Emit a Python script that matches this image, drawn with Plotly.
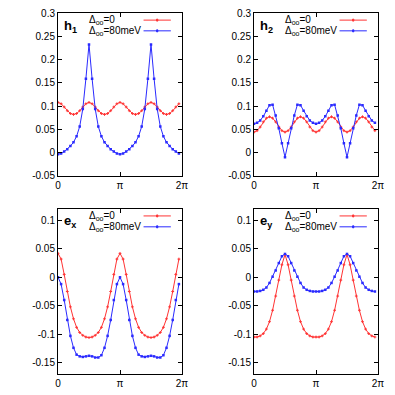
import numpy as np
import plotly.graph_objects as go
from plotly.subplots import make_subplots

# angle grid: 40 points, step pi/20
theta = np.arange(40) * np.pi / 20

h1_red = [0.108, 0.105, 0.098, 0.090, 0.084, 0.082, 0.084, 0.090, 0.098, 0.105,
          0.108, 0.105, 0.098, 0.090, 0.084, 0.082, 0.084, 0.090, 0.098, 0.105,
          0.108, 0.105, 0.098, 0.090, 0.084, 0.082, 0.084, 0.090, 0.098, 0.105,
          0.108, 0.105, 0.098, 0.090, 0.084, 0.082, 0.084, 0.090, 0.098, 0.105]
h1_blue = [-0.004, -0.002, 0.002, 0.007, 0.014, 0.022, 0.035, 0.056, 0.094, 0.159,
           0.233, 0.159, 0.094, 0.056, 0.035, 0.022, 0.014, 0.007, 0.002, -0.002,
           -0.004, -0.002, 0.002, 0.007, 0.014, 0.022, 0.035, 0.056, 0.094, 0.159,
           0.233, 0.159, 0.094, 0.056, 0.035, 0.022, 0.014, 0.007, 0.002, -0.002]
h2_red = [0.044, 0.047, 0.055, 0.066, 0.074, 0.077, 0.074, 0.066, 0.055, 0.047,
          0.044, 0.047, 0.055, 0.066, 0.074, 0.077, 0.074, 0.066, 0.055, 0.047,
          0.044, 0.047, 0.055, 0.066, 0.074, 0.077, 0.074, 0.066, 0.055, 0.047,
          0.044, 0.047, 0.055, 0.066, 0.074, 0.077, 0.074, 0.066, 0.055, 0.047]
h2_blue = [0.062, 0.064, 0.069, 0.078, 0.090, 0.102, 0.103, 0.080, 0.052, 0.020,
           -0.010, 0.020, 0.052, 0.080, 0.103, 0.102, 0.090, 0.078, 0.069, 0.064,
           0.062, 0.064, 0.069, 0.078, 0.090, 0.102, 0.103, 0.080, 0.052, 0.020,
           -0.010, 0.020, 0.052, 0.080, 0.103, 0.102, 0.090, 0.078, 0.069, 0.064]
ex_red = [0.042, 0.032, 0.005, -0.025, -0.052, -0.073, -0.088, -0.097, -0.102, -0.105,
          -0.106, -0.105, -0.102, -0.097, -0.088, -0.073, -0.052, -0.025, 0.005, 0.032,
          0.042, 0.032, 0.005, -0.025, -0.052, -0.073, -0.088, -0.097, -0.102, -0.105,
          -0.106, -0.105, -0.102, -0.097, -0.088, -0.073, -0.052, -0.025, 0.005, 0.032]
ex_blue = [0.000, -0.012, -0.040, -0.075, -0.103, -0.124, -0.136, -0.139, -0.140, -0.139,
           -0.138, -0.139, -0.141, -0.141, -0.137, -0.124, -0.103, -0.075, -0.040, -0.012,
           0.000, -0.012, -0.040, -0.075, -0.103, -0.124, -0.136, -0.139, -0.140, -0.139,
           -0.138, -0.139, -0.141, -0.141, -0.137, -0.124, -0.103, -0.075, -0.040, -0.012]
ey_red = [-0.105, -0.105, -0.103, -0.099, -0.091, -0.078, -0.058, -0.033, -0.005, 0.022,
          0.040, 0.022, -0.005, -0.033, -0.058, -0.078, -0.091, -0.099, -0.103, -0.105,
          -0.105, -0.105, -0.103, -0.099, -0.091, -0.078, -0.058, -0.033, -0.005, 0.022,
          0.040, 0.022, -0.005, -0.033, -0.058, -0.078, -0.091, -0.099, -0.103, -0.105]
ey_blue = [-0.025, -0.025, -0.024, -0.022, -0.018, -0.010, 0.001, 0.012, 0.025, 0.037,
           0.041, 0.037, 0.025, 0.012, 0.001, -0.010, -0.018, -0.022, -0.024, -0.025,
           -0.025, -0.025, -0.024, -0.022, -0.018, -0.010, 0.001, 0.012, 0.025, 0.037,
           0.041, 0.037, 0.025, 0.012, 0.001, -0.010, -0.018, -0.022, -0.024, -0.025]

panel_names = ["h<sub>1</sub>", "h<sub>2</sub>", "e<sub>x</sub>", "e<sub>y</sub>"]
series_names = ["Δ<sub>oo</sub>=0", "Δ<sub>oo</sub>=80meV"]
xtick_vals = [0, np.pi, 2 * np.pi]
xtick_text = ["0", "π", "2π"]
top_ticks = [-0.05, 0, 0.05, 0.1, 0.15, 0.2, 0.25, 0.3]
bot_ticks = [-0.15, -0.1, -0.05, 0, 0.05, 0.1]

RED = "#ff3333"
BLUE = "#2a2aff"
FONT = "Liberation Sans"

panels = [(1, 1, h1_red, h1_blue), (1, 2, h2_red, h2_blue),
          (2, 1, ex_red, ex_blue), (2, 2, ey_red, ey_blue)]

fig = make_subplots(rows=2, cols=2)

for i, (r, c, red, blue) in enumerate(panels):
    fig.add_hline(y=0, line=dict(color="black", width=0.8, dash="dot"), row=r, col=c)
    fig.add_trace(go.Scatter(x=theta, y=red, mode="lines+markers",
                             line=dict(color=RED, width=1),
                             marker=dict(symbol="cross-thin", size=2,
                                         line=dict(color=RED, width=1)),
                             showlegend=False), row=r, col=c)
    fig.add_trace(go.Scatter(x=theta, y=blue, mode="lines+markers",
                             line=dict(color=BLUE, width=1),
                             marker=dict(symbol="square", size=2.5, color=BLUE),
                             showlegend=False), row=r, col=c)

    xa = "x" if i == 0 else "x%d" % (i + 1)
    ya = "y" if i == 0 else "y%d" % (i + 1)
    # panel label
    fig.add_annotation(text="<b>" + panel_names[i] + "</b>", xref=xa + " domain", yref=ya + " domain",
                       x=0.03, y=0.985, xanchor="left", yanchor="top", showarrow=False,
                       font=dict(family=FONT, size=13, color="black"))
    # legend entries: text on left, line sample on right
    for j, (name, col) in enumerate(zip(series_names, [RED, BLUE])):
        ly = 0.958 - j * 0.066
        fig.add_annotation(text=name, xref=xa + " domain", yref=ya + " domain",
                           x=0.235, y=ly, xanchor="left", yanchor="middle", showarrow=False,
                           font=dict(family=FONT, size=10, color="black"))
        fig.add_shape(type="line", xref=xa + " domain", yref=ya + " domain",
                      x0=0.69, x1=0.91, y0=ly, y1=ly, line=dict(color=col, width=1))
        fig.add_shape(type="rect", xref=xa + " domain", yref=ya + " domain",
                      x0=0.795, x1=0.805, y0=ly - 0.006, y1=ly + 0.006,
                      line=dict(color=col, width=1), fillcolor=col)

axis_common = dict(showline=True, mirror="allticks", linecolor="black", linewidth=1,
                   ticks="inside", ticklen=4, tickcolor="black", showgrid=False, zeroline=False,
                   automargin=False, tickfont=dict(family=FONT, size=10, color="black"))

xdom = [[58 / 395, 182 / 395], [254 / 395, 378 / 395]]
ydom_top = [1 - 175.7 / 395, 1 - 13.3 / 395]
ydom_bot = [1 - 374 / 395, 1 - 209 / 395]

for i, (r, c, _, _) in enumerate(panels):
    xkey = "xaxis" if i == 0 else "xaxis%d" % (i + 1)
    ykey = "yaxis" if i == 0 else "yaxis%d" % (i + 1)
    fig.layout[xkey].update(domain=xdom[c - 1], range=[0, 2 * np.pi],
                            tickvals=xtick_vals, ticktext=xtick_text, **axis_common)
    if r == 1:
        fig.layout[ykey].update(domain=ydom_top, range=[-0.05, 0.3], tickvals=top_ticks,
                                ticktext=["-0.05", "0", "0.05", "0.1", "0.15", "0.2", "0.25", "0.3"],
                                **axis_common)
    else:
        fig.layout[ykey].update(domain=ydom_bot, range=[-0.17, 0.12], tickvals=bot_ticks,
                                ticktext=["-0.15", "-0.1", "-0.05", "0", "0.05", "0.1"],
                                **axis_common)

fig.update_layout(width=395, height=395, margin=dict(l=0, r=0, t=0, b=0),
                  paper_bgcolor="white", plot_bgcolor="white",
                  font=dict(family=FONT, size=10, color="black"))

# remove the default page margin so the figure sits at the window corner
fig.write_html("out.html", config={"displayModeBar": False},
               post_script="document.body.style.margin='0';")
